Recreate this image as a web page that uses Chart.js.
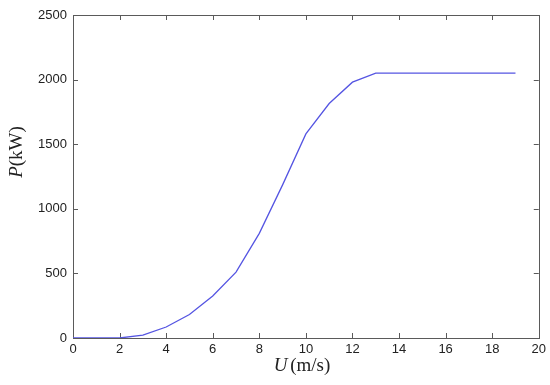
<!DOCTYPE html>
<html>
<head>
<meta charset="utf-8">
<script src="https://cdn.jsdelivr.net/npm/chart.js@4.4.1/dist/chart.umd.min.js"></script>
<style>
  html, body { margin: 0; padding: 0; background: #fff; }
  #wrap { width: 550px; height: 385px; }
</style>
</head>
<body>
<div id="wrap"><canvas id="power-curve"></canvas></div>
<script>
    // Wind speed (m/s) and power (kW)
    var windSpeed = [0, 1, 2, 3, 4, 5, 6, 7, 8, 9, 10, 11, 12, 13, 14, 15, 16, 17, 18, 19];
    var power = [0, 0, 0, 22, 85, 182, 325, 510, 810, 1185, 1580, 1815, 1980, 2050, 2050, 2050, 2050, 2050, 2050, 2050];
    var xTicks = [0, 2, 4, 6, 8, 10, 12, 14, 16, 18, 20];
    var yTicks = [0, 500, 1000, 1500, 2000, 2500];

    var axisColor = "#5a5a5a";

    var points = windSpeed.map(function (u, i) {
        return { x: u, y: power[i] };
    });

    // Frame + inward tick marks on all four sides, and the mixed-font axis titles
    var frameTicks = {
        id: "frameTicks",
        beforeDatasetsDraw: function (chart) {
            var c = chart.ctx, a = chart.chartArea;
            var sx = chart.scales.x, sy = chart.scales.y;
            c.save();
            c.strokeStyle = axisColor;
            c.lineWidth = 1;
            c.beginPath();
            xTicks.forEach(function (v) {
                var px = Math.round(sx.getPixelForValue(v)) + 0.5;
                c.moveTo(px, a.bottom); c.lineTo(px, a.bottom - 5);
                c.moveTo(px, a.top); c.lineTo(px, a.top + 5);
            });
            yTicks.forEach(function (v) {
                var py = Math.round(sy.getPixelForValue(v)) + 0.5;
                c.moveTo(a.left, py); c.lineTo(a.left + 5, py);
                c.moveTo(a.right, py); c.lineTo(a.right - 5, py);
            });
            c.stroke();
            c.strokeRect(Math.round(a.left) + 0.5, Math.round(a.top) + 0.5,
                Math.round(a.right - a.left), Math.round(a.bottom - a.top));
            c.restore();
        },
        afterDraw: function (chart) {
            var c = chart.ctx;
            c.save();
            c.fillStyle = "#222";
            c.textBaseline = "middle";

            // x title: U (m/s)
            var italic = "italic 19px 'Liberation Serif', 'Times New Roman', serif";
            var upright = "19px 'Liberation Serif', 'Times New Roman', serif";
            c.font = italic;
            var wU = c.measureText("U").width;
            c.font = upright;
            var wRest = c.measureText(" (m/s)").width;
            var x0 = 303 - (wU + wRest) / 2;
            c.font = italic; c.textAlign = "left";
            c.fillText("U", x0, 366);
            c.font = upright;
            c.fillText(" (m/s)", x0 + wU - 2, 366);

            // y title: P(kW), rotated
            c.translate(17, 152);
            c.rotate(-Math.PI / 2);
            c.font = italic;
            var wP = c.measureText("P").width;
            c.font = upright;
            var wK = c.measureText("(kW)").width;
            var y0 = -(wP + wK) / 2;
            c.font = italic;
            c.fillText("P", y0, 0);
            c.font = upright;
            c.fillText("(kW)", y0 + wP, 0);
            c.restore();
        }
    };

    var plainLabel = function (value) { return String(value); };

    var ctx = document.getElementById("power-curve").getContext("2d");
    var myChart = new Chart(ctx, {
        type: "line",
        data: {
            datasets: [{
                label: "P",
                data: points,
                borderColor: "#5555e2",
                borderWidth: 1.3,
                pointRadius: 0,
                tension: 0,
                fill: false
            }]
        },
        options: {
            responsive: true,
            maintainAspectRatio: false,
            animation: false,
            layout: { padding: { left: 0, right: 10, top: 15, bottom: 0 } },
            plugins: {
                legend: { display: false },
                tooltip: { enabled: false }
            },
            scales: {
                x: {
                    type: "linear",
                    min: 0,
                    max: 20,
                    afterFit: function (s) { s.height = 47; },
                    afterBuildTicks: function (s) {
                        s.ticks = xTicks.map(function (v) { return { value: v }; });
                    },
                    grid: { display: false, drawTicks: false },
                    border: { display: false },
                    ticks: {
                        padding: 4,
                        color: "#222",
                        callback: plainLabel,
                        font: { family: "'Liberation Sans', Arial, sans-serif", size: 13 },
                        maxRotation: 0
                    }
                },
                y: {
                    type: "linear",
                    min: 0,
                    max: 2500,
                    afterFit: function (s) { s.width = 73; },
                    afterBuildTicks: function (s) {
                        s.ticks = yTicks.map(function (v) { return { value: v }; });
                    },
                    grid: { display: false, drawTicks: false },
                    border: { display: false },
                    ticks: {
                        padding: 6,
                        color: "#222",
                        callback: plainLabel,
                        font: { family: "'Liberation Sans', Arial, sans-serif", size: 13 }
                    }
                }
            }
        },
        plugins: [frameTicks]
    });
</script>
</body>
</html>
